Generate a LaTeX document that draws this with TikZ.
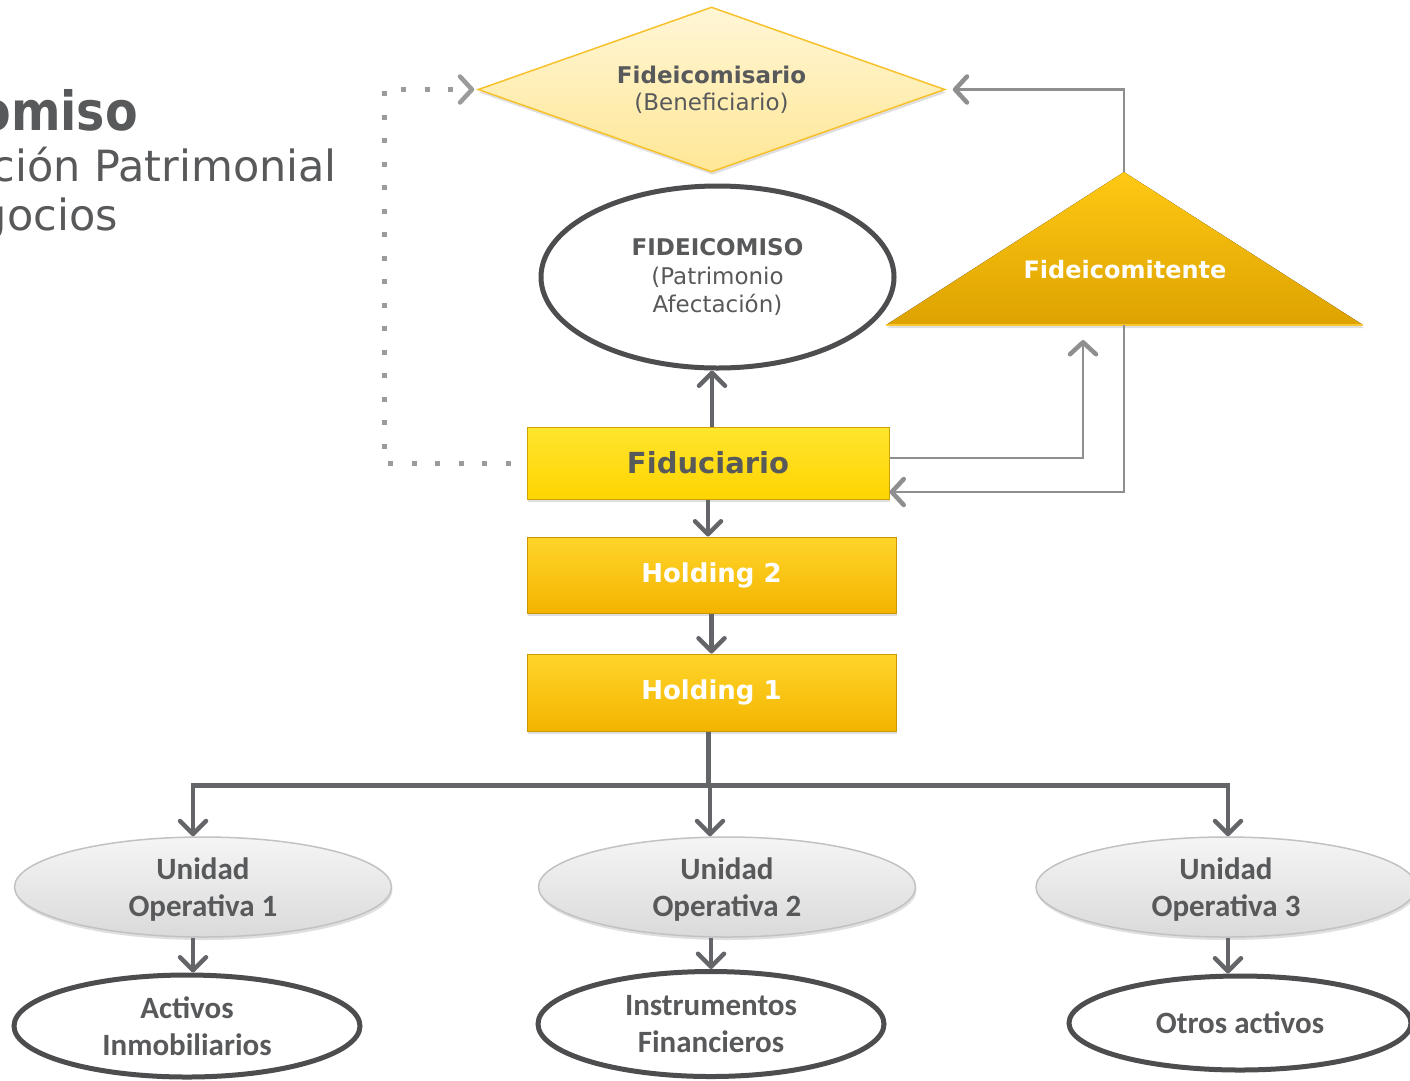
\documentclass[tikz,border=0pt]{standalone}
\usepackage{fontspec}
\setmainfont{DejaVu Sans}
\newfontfamily\carlito{Carlito}
\usetikzlibrary{arrows.meta,shapes.geometric,shadows}
\definecolor{txtgrey}{HTML}{58595B}
\definecolor{arrgrey}{HTML}{646568}
\definecolor{lightgrey}{HTML}{8F8F8F}
\definecolor{dotgrey}{HTML}{9B9B9B}
\definecolor{rimgrey}{HTML}{4D4D4F}
\definecolor{diatop}{HTML}{FFF6D6}
\definecolor{diabot}{HTML}{FFE796}
\definecolor{diaedge}{HTML}{F8C12C}
\definecolor{tritop}{HTML}{FFC914}
\definecolor{tribot}{HTML}{DDA200}
\definecolor{triedge}{HTML}{F9C733}
\definecolor{fidtop}{HTML}{FFE52E}
\definecolor{fidbot}{HTML}{FFD400}
\definecolor{fidedge}{HTML}{CCA300}
\definecolor{holdtop}{HTML}{FFD52A}
\definecolor{holdbot}{HTML}{F3B400}
\definecolor{holdedge}{HTML}{C99800}
\definecolor{unittop}{HTML}{F5F5F5}
\definecolor{unitbot}{HTML}{DADADA}
\definecolor{unitedge}{HTML}{C2C2C2}
\begin{document}
\begin{tikzpicture}[x=1pt, y=-1pt,
      shade/.style={drop shadow={opacity=.25, shadow xshift=1pt, shadow yshift=-3pt}},
      gbox/.style={rectangle, draw=holdedge, line width=1pt, top color=holdtop, bottom color=holdbot,
                   minimum width=369pt, minimum height=76pt, text=white,
                   font=\bfseries\fontsize{26}{30}\selectfont, shade},
      oval/.style={ellipse, draw=rimgrey, line width=5pt, fill=white, inner sep=0pt,
                   text=txtgrey, align=center},
      unit/.style={ellipse, draw=unitedge, line width=1.5pt, top color=unittop, bottom color=unitbot,
                   minimum width=377pt, minimum height=100pt, inner sep=0pt, text=txtgrey, align=center,
                   font=\carlito\bfseries\fontsize{31}{37}\selectfont, shade},
      asset/.style={oval, minimum width=346pt, minimum height=102pt,
                    font=\carlito\bfseries\fontsize{31}{37}\selectfont},
      title/.style={anchor=base east, inner sep=0pt, text=txtgrey},
      link/.style={arrgrey, line width=4.5pt, -{Straight Barb[round, length=13pt, width=26pt]}},
      back/.style={lightgrey, line width=2.5pt, -{Straight Barb[round, length=12pt, width=26pt, line width=4.5pt]}},
      dots/.style={dotgrey, line width=5pt, dash pattern=on 5pt off 18.5pt,
                   -{Straight Barb[round, length=12pt, width=26pt, line width=4.5pt]}}]
      \path[use as bounding box, fill=white] (0, 0) rectangle (1410, 1080);

      % title, cut at the left edge
      \node[title, font=\bfseries\fontsize{54}{60}\selectfont] (ttl) at (138, 130) {\scalebox{.88}[1]{omiso}};
      \node[title, font=\fontsize{43}{50}\selectfont] (sub1) at (337, 181) {ción Patrimonial};
      \node[title, font=\fontsize{43}{50}\selectfont] (sub2) at (118, 230) {gocios};

      % top part
      \node[diamond, draw=diaedge, line width=1.5pt, top color=diatop, bottom color=diabot, aspect=3,
            minimum width=467pt, minimum height=165pt, inner sep=0pt, align=center, text=txtgrey,
            font=\fontsize{23}{27}\selectfont, shade] (fideicomisario) at (711.5, 89.5)
            {\textbf{Fideicomisario}\\(Beneficiario)};
      \node[oval, minimum width=353pt, minimum height=182pt, font=\fontsize{23}{28.5}\selectfont]
            (fideicomiso) at (717.5, 277) {\textbf{FIDEICOMISO}\\(Patrimonio\\Afectación)};
      \fill[shade, top color=tritop, bottom color=tribot] (1124, 172) -- (1363, 325) -- (886, 325) -- cycle;
      \draw[triedge, line width=2pt] (886, 325) -- (1363, 325);
      \node[text=white, font=\bfseries\fontsize{24}{28}\selectfont] (fideicomitente) at (1125, 270) {Fideicomitente};
      \coordinate (fcte top) at (1124, 172);
      \coordinate (fcte in) at (1083, 325);
      \coordinate (fcte out) at (1124, 325);

      % boxes
      \node[gbox, draw=fidedge, top color=fidtop, bottom color=fidbot, minimum width=362pt,
            minimum height=72pt, text=txtgrey, font=\bfseries\fontsize{29}{33}\selectfont]
            (fiduciario) at (708, 463) {Fiduciario};
      \node[gbox] (holding2) at (711.5, 575) {Holding 2};
      \node[gbox, minimum height=77pt] (holding1) at (711.5, 692.5) {Holding 1};

      % bottom part
      \node[unit] (unit1) at (203, 887) {\strut Unidad\\Operativa 1};
      \node[unit] (unit2) at (727, 887) {\strut Unidad\\Operativa 2};
      \node[unit, minimum width=380pt] (unit3) at (1226, 887) {\strut Unidad\\Operativa 3};
      \node[asset] (activos) at (187, 1026) {Activos\\Inmobiliarios};
      \node[asset, minimum height=105pt] (instrumentos) at (711, 1024) {Instrumentos\\Financieros};
      \node[asset, minimum width=342pt, minimum height=94pt] (otros) at (1240, 1023) {Otros activos};

      % connectors
      \draw[link] ([xshift=4pt]fiduciario.north) -- ([xshift=4pt]fiduciario.north |- fideicomiso.south);
      \draw[link] (fiduciario.south) -- (fiduciario.south |- holding2.north);
      \draw[link] (holding2.south) -- (holding1.north);
      \draw[arrgrey, line width=4.5pt] ([xshift=-3pt]holding1.south) -- ++(0, 54) coordinate (split);
      \draw[arrgrey, line width=4.5pt, line cap=rect] ([xshift=-10pt]unit1.north |- split)
            -- ([xshift=2pt]unit3.north |- split);
      \foreach \u/\s in {unit1/-10, unit2/-17, unit3/2}
            \draw[link] ([xshift=\s pt]\u.north |- split) -- ([xshift=\s pt]\u.north);
      \draw[link] ([xshift=-10pt]unit1.south) -- ([xshift=-10pt]unit1.south |- activos.north);
      \draw[link] (instrumentos.north |- unit2.south) -- (instrumentos.north);
      \draw[link] ([xshift=2pt]unit3.south) -- ([xshift=2pt]unit3.south |- otros.north);

      \draw[back, shorten >=7pt] (fcte top) |- (fideicomisario.east);
      \draw[back] ([yshift=5pt]fiduciario.east) -| ([yshift=-15pt]fcte in);
      \draw[back] (fcte out) |- ([yshift=-29pt]fiduciario.east);

      \coordinate (dotcorner) at (384, 0);
      \draw[dots, shorten <=16pt, shorten >=3pt] (fiduciario.west) -- (fiduciario.west -| dotcorner)
            |- (fideicomisario.west);
\end{tikzpicture}
\end{document}
